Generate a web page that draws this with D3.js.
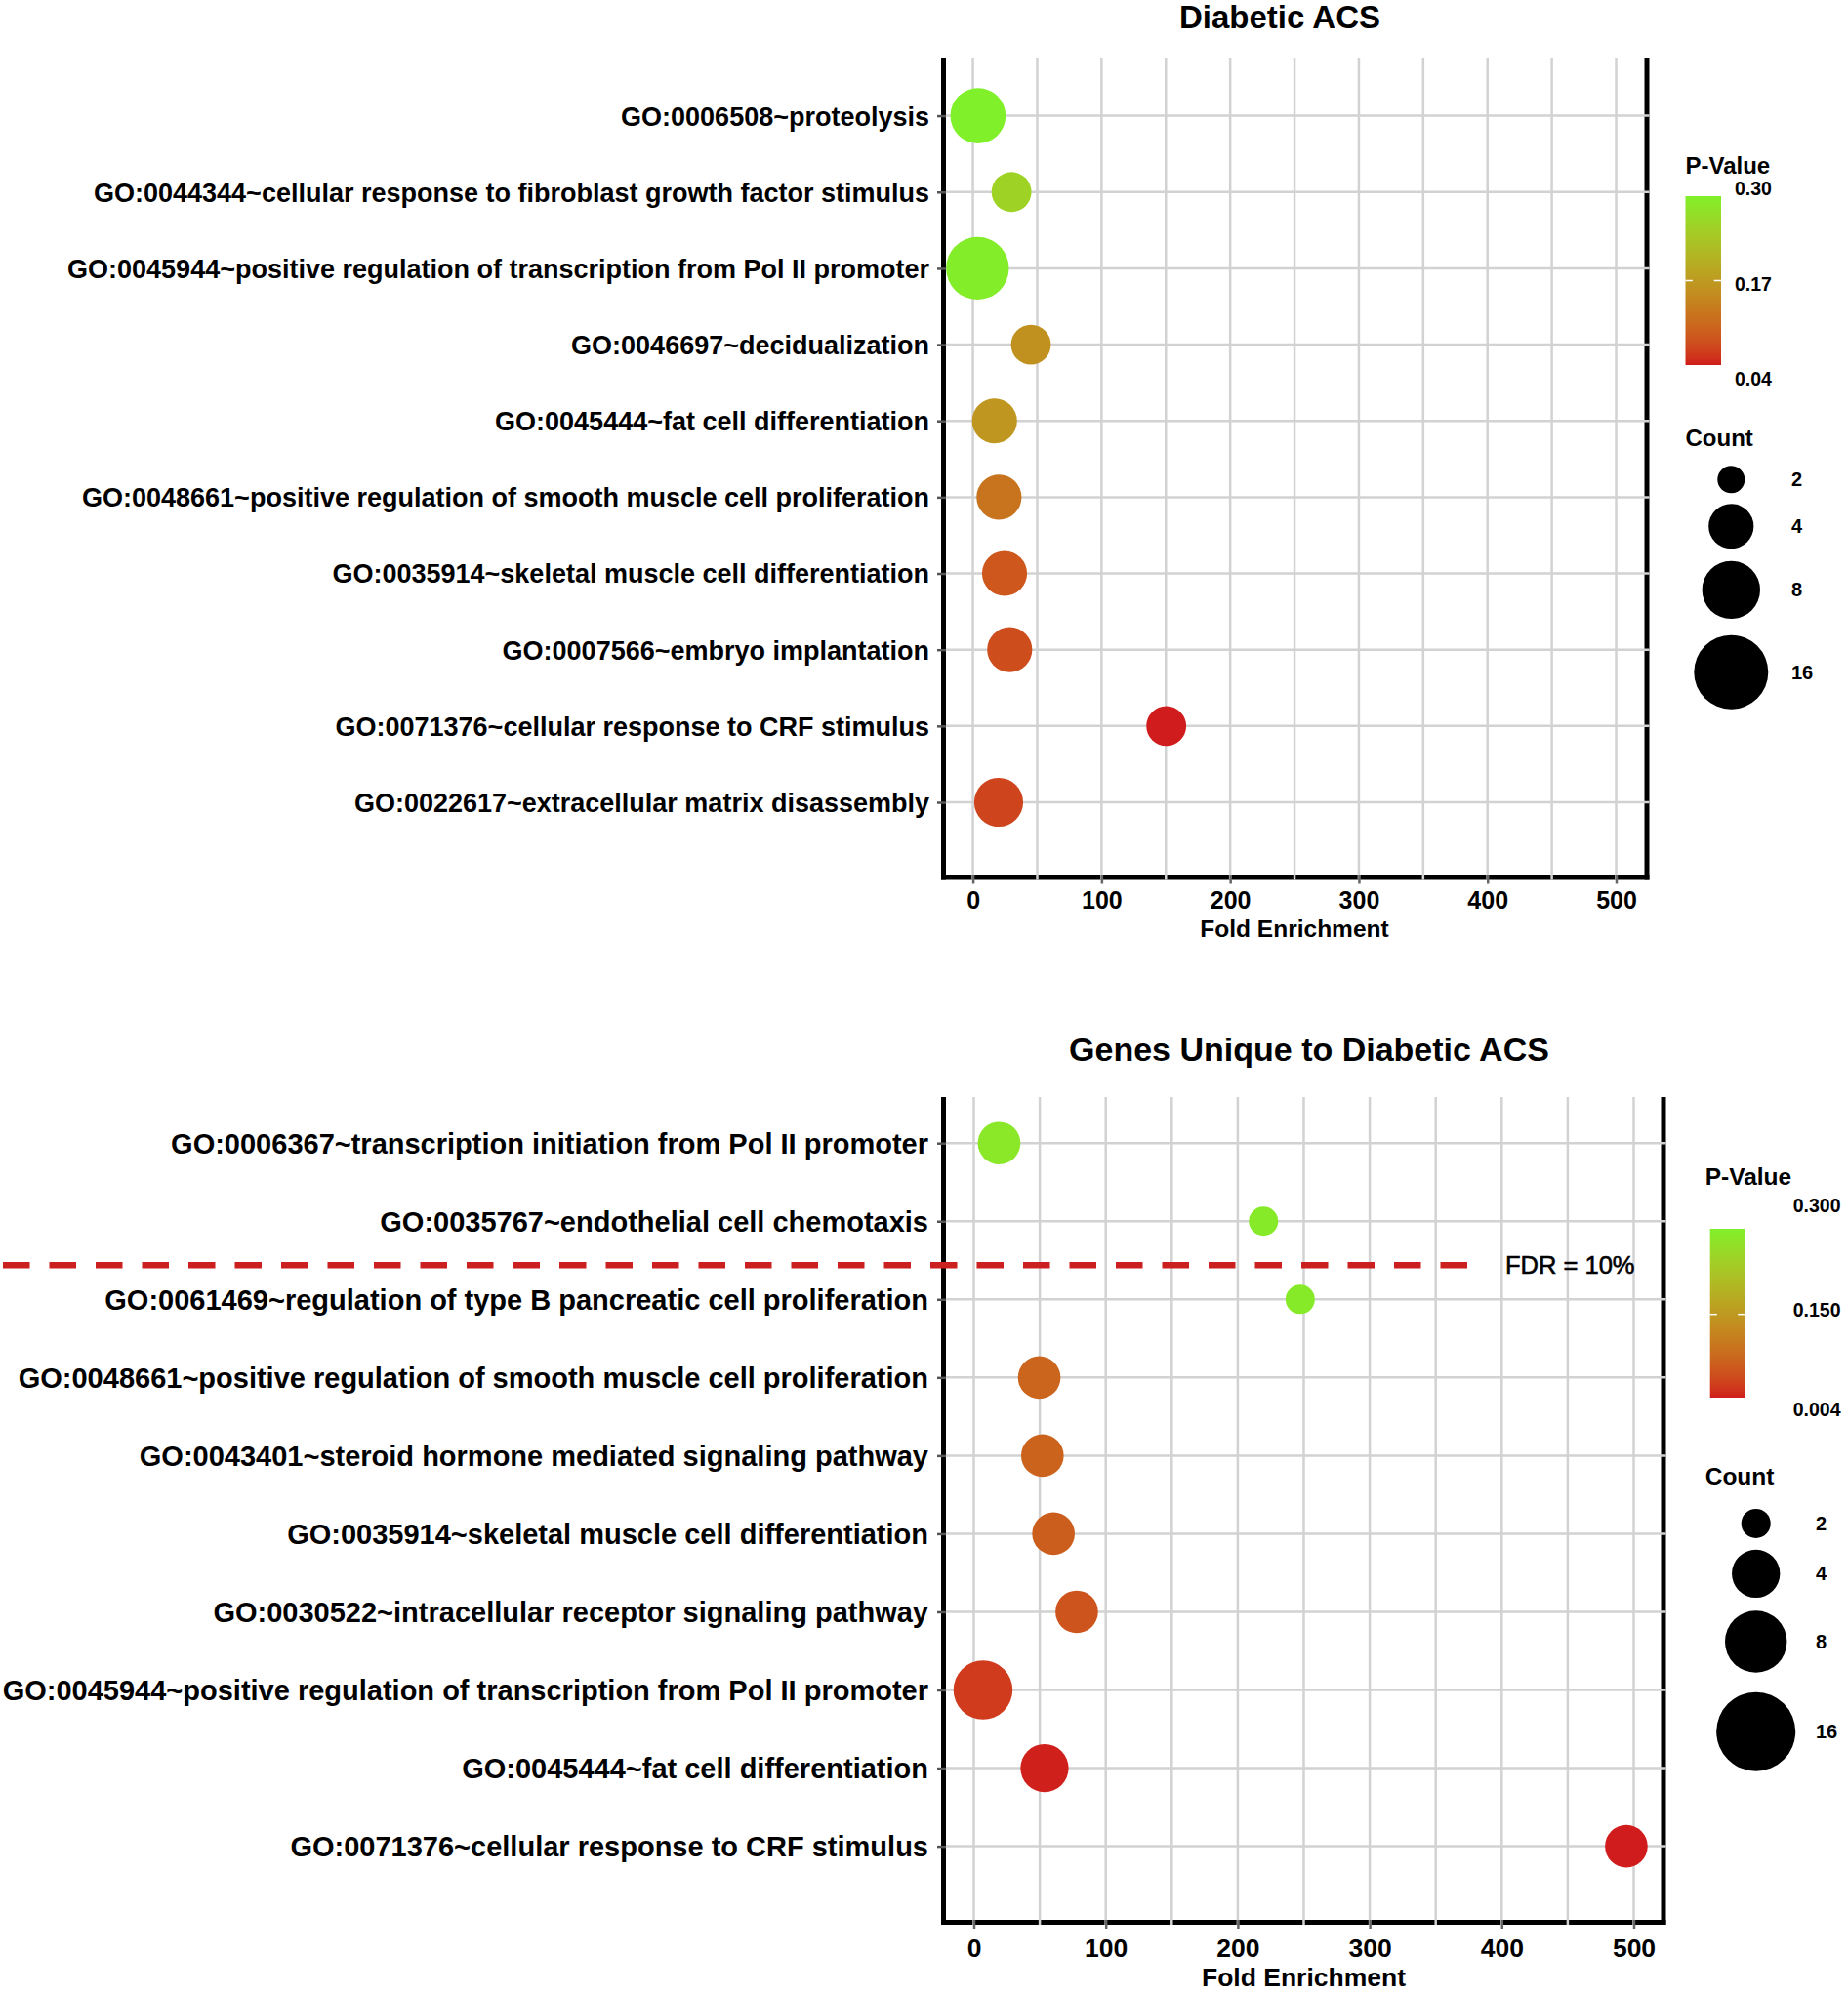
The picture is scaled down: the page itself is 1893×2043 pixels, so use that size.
<!DOCTYPE html>
<html><head><meta charset="utf-8">
<script src="https://cdn.jsdelivr.net/npm/d3@7"></script>
<style>
body{margin:0;background:#fff;}
svg{display:block;}
text{font-family:"Liberation Sans",Arial,Helvetica,sans-serif;fill:#000;}
</style>
</head><body>
<svg id="chart" width="1893" height="2043"></svg>
<script>
// ---------------- DATA ----------------
const topTitle = "Diabetic ACS";
const topCategories = [
  "GO:0006508~proteolysis",
  "GO:0044344~cellular response to fibroblast growth factor stimulus",
  "GO:0045944~positive regulation of transcription from Pol II promoter",
  "GO:0046697~decidualization",
  "GO:0045444~fat cell differentiation",
  "GO:0048661~positive regulation of smooth muscle cell proliferation",
  "GO:0035914~skeletal muscle cell differentiation",
  "GO:0007566~embryo implantation",
  "GO:0071376~cellular response to CRF stimulus",
  "GO:0022617~extracellular matrix disassembly"
];
const topFoldEnrichment = [4.0, 30.0, 3.6, 45.1, 16.8, 20.3, 24.6, 28.6, 150.3, 20.0];
const topCount = [7, 3, 10, 3, 4, 4, 4, 4, 3, 5];
const topPValue = [0.300, 0.255, 0.295, 0.157, 0.165, 0.118, 0.084, 0.074, 0.040, 0.066];

const bottomTitle = "Genes Unique to Diabetic ACS";
const bottomCategories = [
  "GO:0006367~transcription initiation from Pol II promoter",
  "GO:0035767~endothelial cell chemotaxis",
  "GO:0061469~regulation of type B pancreatic cell proliferation",
  "GO:0048661~positive regulation of smooth muscle cell proliferation",
  "GO:0043401~steroid hormone mediated signaling pathway",
  "GO:0035914~skeletal muscle cell differentiation",
  "GO:0030522~intracellular receptor signaling pathway",
  "GO:0045944~positive regulation of transcription from Pol II promoter",
  "GO:0045444~fat cell differentiation",
  "GO:0071376~cellular response to CRF stimulus"
];
const bottomFoldEnrichment = [19.2, 219.5, 247.3, 49.6, 52.0, 60.4, 78.0, 7.0, 53.6, 494.4];
const bottomCount = [3, 2, 2, 3, 3, 3, 3, 7, 4, 3];
const bottomPValue = [0.285, 0.290, 0.290, 0.070, 0.069, 0.063, 0.051, 0.025, 0.006, 0.004];

const xTickValues = [0, 100, 200, 300, 400, 500];
const xGridValues = [0, 50, 100, 150, 200, 250, 300, 350, 400, 450, 500];
const xAxisTitle = "Fold Enrichment";

const topPBreaks = [0.30, 0.17, 0.04];
const topPLabels = ["0.30", "0.17", "0.04"];
const bottomPBreaks = [0.300, 0.150, 0.004];
const bottomPLabels = ["0.300", "0.150", "0.004"];
const countBreaks = [2, 4, 8, 16];
const countLabels = ["2", "4", "8", "16"];
const pLegendTitle = "P-Value";
const countLegendTitle = "Count";

const fdrLabel = "FDR = 10%";

// ---------------- STYLE / LAYOUT ----------------
const colorLow = "#d01c1c", colorHigh = "#80f02a";
const gridColor = "#d2d2d2";
const svg = d3.select("#chart");
const defs = svg.append("defs");

const panels = [
  {
    id: "top", title: topTitle, cats: topCategories, fe: topFoldEnrichment, cnt: topCount, pv: topPValue,
    pBreaks: topPBreaks, pLabels: topPLabels,
    x0: 996.6, x500: 1655.5, xLeft: 966.5, xRight: 1687, yTop: 59, yBottom: 899,
    rowFirst: 118.6, rowLast: 822,
    rMin: 14, rMax: 38,
    labelSize: 27, labelRight: 952,
    tickSize: 25, tickBase: 931,
    axisTitleSize: 24.5, axisTitleBase: 960, axisTitleX: 1326,
    titleSize: 33, titleX: 1311, titleBase: 29,
    leg: {
      x: 1726.5, pTitleBase: 178.3, barX: 1726.5, barW: 36.5, barTop: 201, barBottom: 374,
      labelX: 1777, labelNudge: [-8, 4, 14], labelSize: 19.5, titleSize: 24,
      countTitleBase: 457.2, circX: 1773.3, circY: [491.3, 539.2, 604.4, 688.7], countLabelX: 1835
    }
  },
  {
    id: "bottom", title: bottomTitle, cats: bottomCategories, fe: bottomFoldEnrichment, cnt: bottomCount, pv: bottomPValue,
    pBreaks: bottomPBreaks, pLabels: bottomPLabels,
    x0: 997.5, x500: 1673.5, xLeft: 966.5, xRight: 1704, yTop: 1124, yBottom: 1969.5,
    rowFirst: 1171.2, rowLast: 1891.6,
    rMin: 15, rMax: 40.5,
    labelSize: 29, labelRight: 951,
    tickSize: 26.5, tickBase: 2005,
    axisTitleSize: 26.5, axisTitleBase: 2035, axisTitleX: 1335.5,
    titleSize: 34, titleX: 1341, titleBase: 1087,
    leg: {
      x: 1746.7, pTitleBase: 1214, barX: 1751.7, barW: 35.6, barTop: 1259, barBottom: 1432,
      labelX: 1836.7, labelNudge: [-24, -4, 12], labelSize: 19.5, titleSize: 24.5,
      countTitleBase: 1521, circX: 1798.7, circY: [1560.9, 1612.4, 1682, 1774.2], countLabelX: 1860
    }
  }
];

panels.forEach(P => {
  const g = svg.append("g").attr("class", "panel-" + P.id);
  const x = d3.scaleLinear().domain([0, 500]).range([P.x0, P.x500]);
  const y = d3.scalePoint().domain(P.cats).range([P.rowFirst, P.rowLast]);
  const pExt = d3.extent(P.pBreaks);
  const color = d3.scaleLinear().domain(pExt).range([colorLow, colorHigh]).interpolate(d3.interpolateLab);
  const cExt = d3.extent(countBreaks);
  const cNorm = d3.scaleLinear().domain(cExt).range([0, 1]);
  const rLin = d3.scaleLinear().domain([0, 1]).range([P.rMin, P.rMax]);
  const radius = v => rLin(Math.sqrt(cNorm(v)));

  // axis lines (left, right, bottom)
  const axW = 5;
  g.append("line").attr("x1", P.xLeft).attr("x2", P.xLeft).attr("y1", P.yTop).attr("y2", P.yBottom + axW / 2)
    .attr("stroke", "#000").attr("stroke-width", axW);
  g.append("line").attr("x1", P.xRight).attr("x2", P.xRight).attr("y1", P.yTop).attr("y2", P.yBottom + axW / 2)
    .attr("stroke", "#000").attr("stroke-width", axW);
  g.append("line").attr("x1", P.xLeft - axW / 2).attr("x2", P.xRight + axW / 2).attr("y1", P.yBottom).attr("y2", P.yBottom)
    .attr("stroke", "#000").attr("stroke-width", axW);

  // gridlines (drawn over right/bottom axis like the original)
  g.append("g").selectAll("line").data(xGridValues).join("line")
    .attr("x1", d => x(d)).attr("x2", d => x(d))
    .attr("y1", P.yTop).attr("y2", P.yBottom + axW / 2)
    .attr("stroke", gridColor).attr("stroke-width", 2.5);
  g.append("g").selectAll("line").data(P.cats).join("line")
    .attr("x1", P.xLeft + axW / 2).attr("x2", P.xRight + axW / 2)
    .attr("y1", d => y(d)).attr("y2", d => y(d))
    .attr("stroke", gridColor).attr("stroke-width", 2.5);

  // x axis via d3.axisBottom
  const xAxis = d3.axisBottom(x).tickValues(xTickValues).tickFormat(d3.format("d")).tickSize(9).tickPadding(0);
  const xa = g.append("g").attr("transform", `translate(0,${P.yBottom - axW / 2})`).call(xAxis);
  xa.select(".domain").remove();
  xa.selectAll(".tick line").attr("stroke", "#666").attr("stroke-width", 2.5);
  xa.selectAll(".tick text").attr("font-size", P.tickSize).attr("font-weight", "bold")
    .attr("fill", "#000").attr("y", P.tickBase - (P.yBottom - axW / 2)).attr("dy", 0);

  // y axis via d3.axisLeft
  const yAxis = d3.axisLeft(y).tickSize(9).tickPadding(0);
  const ya = g.append("g").attr("transform", `translate(${P.xLeft + axW / 2},0)`).call(yAxis);
  ya.select(".domain").remove();
  ya.selectAll(".tick line").attr("stroke", "#555").attr("stroke-width", 2.5);
  ya.selectAll(".tick text").attr("font-size", P.labelSize).attr("font-weight", "bold").attr("fill", "#000")
    .attr("x", P.labelRight - (P.xLeft + axW / 2)).attr("dy", "0.35em").attr("text-anchor", "end");

  // points
  const rows = P.cats.map((c, i) => ({ cat: c, fe: P.fe[i], cnt: P.cnt[i], pv: P.pv[i] }));
  g.append("g").selectAll("circle").data(rows).join("circle")
    .attr("cx", d => x(d.fe)).attr("cy", d => y(d.cat)).attr("r", d => radius(d.cnt))
    .attr("fill", d => color(d.pv));

  // titles
  g.append("text").attr("x", P.titleX).attr("y", P.titleBase).attr("text-anchor", "middle")
    .attr("font-size", P.titleSize).attr("font-weight", "bold").text(P.title);
  g.append("text").attr("x", P.axisTitleX).attr("y", P.axisTitleBase).attr("text-anchor", "middle")
    .attr("font-size", P.axisTitleSize).attr("font-weight", "bold").text(xAxisTitle);

  // ---------- legends ----------
  const L = P.leg;
  g.append("text").attr("x", L.x).attr("y", L.pTitleBase).attr("font-size", L.titleSize).attr("font-weight", "bold").text(pLegendTitle);
  const gid = "grad-" + P.id;
  const grad = defs.append("linearGradient").attr("id", gid).attr("x1", 0).attr("x2", 0).attr("y1", 1).attr("y2", 0);
  const nStops = 24;
  grad.selectAll("stop").data(d3.range(nStops + 1)).join("stop")
    .attr("offset", i => i / nStops)
    .attr("stop-color", i => color(pExt[0] + (pExt[1] - pExt[0]) * i / nStops));
  const barY = d3.scaleLinear().domain(pExt).range([L.barBottom, L.barTop]);
  g.append("rect").attr("x", L.barX).attr("y", L.barTop).attr("width", L.barW).attr("height", L.barBottom - L.barTop)
    .attr("fill", `url(#${gid})`);
  // white tick marks on the bar for the inner break
  const inner = P.pBreaks.filter(v => v !== pExt[0] && v !== pExt[1]);
  inner.forEach(v => {
    [[L.barX, L.barX + L.barW / 5], [L.barX + L.barW * 4 / 5, L.barX + L.barW]].forEach(([a, b]) => {
      g.append("line").attr("x1", a).attr("x2", b).attr("y1", barY(v)).attr("y2", barY(v))
        .attr("stroke", "#fff").attr("stroke-width", 1.5);
    });
  });
  g.append("g").selectAll("text").data(P.pBreaks).join("text")
    .attr("x", L.labelX).attr("y", (d, i) => barY(d) + L.labelNudge[i]).attr("dy", "0.35em")
    .attr("font-size", L.labelSize).attr("font-weight", "bold").text((d, i) => P.pLabels[i]);

  g.append("text").attr("x", L.x).attr("y", L.countTitleBase).attr("font-size", L.titleSize).attr("font-weight", "bold").text(countLegendTitle);
  g.append("g").selectAll("circle").data(countBreaks).join("circle")
    .attr("cx", L.circX).attr("cy", (d, i) => L.circY[i]).attr("r", d => radius(d)).attr("fill", "#000");
  g.append("g").selectAll("text").data(countBreaks).join("text")
    .attr("x", L.countLabelX).attr("y", (d, i) => L.circY[i]).attr("dy", "0.35em")
    .attr("font-size", 20).attr("font-weight", "bold").text((d, i) => countLabels[i]);

  // FDR line for bottom panel (between rows 2 and 3)
  if (P.id === "bottom") {
    const yF = (y(P.cats[1]) + y(P.cats[2])) / 2 + 5;
    g.append("line").attr("x1", 3).attr("x2", 1506).attr("y1", yF).attr("y2", yF)
      .attr("stroke", "#cc1f1f").attr("stroke-width", 6.5).attr("stroke-dasharray", "27.5,20");
    g.append("text").attr("x", 1542).attr("y", yF).attr("dy", "0.35em").attr("font-size", 25.5)
      .attr("stroke", "#000").attr("stroke-width", 0.6).text(fdrLabel);
  }
});
</script>
</body></html>
